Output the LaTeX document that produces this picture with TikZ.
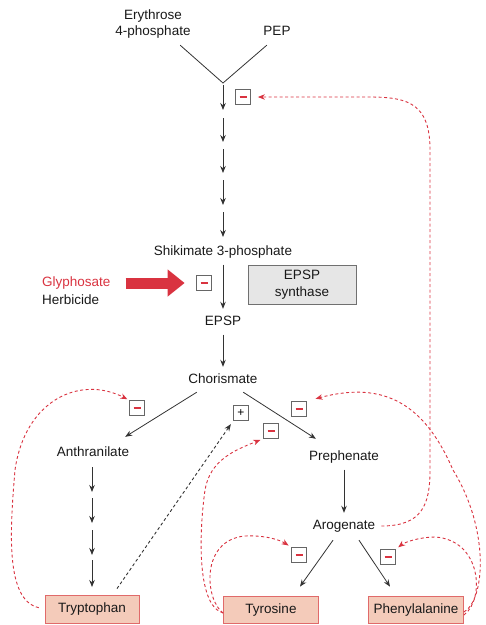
\documentclass[tikz,border=0pt]{standalone}
\usepackage{fontspec}
\setmainfont{Liberation Sans}
\usepackage{xcolor}
\usetikzlibrary{arrows.meta}

\definecolor{inhred}{HTML}{D93340}
\definecolor{aminofill}{HTML}{F4CBBA}
\definecolor{aminoline}{HTML}{E06A6A}
\definecolor{enzfill}{HTML}{E6E6E6}
\definecolor{enzline}{HTML}{707070}
\definecolor{boxgray}{HTML}{666666}
\definecolor{linegray}{HTML}{333333}

\newcommand{\minussign}{\rule{7pt}{1.4pt}}

\begin{document}
\begin{tikzpicture}[x=1pt, y=-1pt,
				>={Stealth[length=7pt,width=5.5pt]},
				metab/.style={font=\fontsize{13.5}{16.5}\selectfont, inner sep=1pt, align=center, text=black!90},
				onerow/.style={metab, text height=10pt, text depth=3pt},
				amino/.style={onerow, draw=aminoline, fill=aminofill, line width=0.8pt, minimum width=95pt, minimum height=27pt},
				enzyme/.style={metab, draw=enzline, fill=enzfill, line width=0.8pt, minimum width=108pt, minimum height=39pt},
				inhib/.style={draw=boxgray, line width=0.7pt, minimum size=15pt, inner sep=0pt, font=\fontsize{12}{12}\selectfont, text=inhred},
				boost/.style={inhib, text=black},
				arr/.style={->, color=linegray, line width=0.8pt},
				fb/.style={->, color=inhred, line width=0.9pt, dash pattern=on 3pt off 2.5pt},
				act/.style={->, color=linegray, line width=0.9pt, dash pattern=on 3pt off 2.5pt}]
				
				\useasboundingbox (0,0) rectangle (486,625);
				
				% metabolites
				\node[metab] (ery) at (153,24) {Erythrose\\4-phosphate};
				\node[onerow] (pep) at (277,32) {PEP};
				\coordinate (j) at (223,83);
				\node[onerow] (shik) at (223,252) {Shikimate 3-phosphate};
				\node[onerow] (epsp) at (223,322) {EPSP};
				\node[onerow] (chor) at (223,380) {Chorismate};
				\node[onerow] (anth) at (93,453) {Anthranilate};
				\node[onerow] (preph) at (344,457) {Prephenate};
				\node[onerow] (arog) at (344,526) {Arogenate};
				\node[amino, minimum width=94pt, minimum height=28pt] (trp) at (92,609) {Tryptophan};
				\node[amino] (tyr) at (271,610) {Tyrosine};
				\node[amino] (phe) at (416,610) {Phenylalanine};
				\node[enzyme] (synth) at (302,284.5) {EPSP\\synthase};
				\node[onerow, anchor=west, text=inhred] (glyph) at (41,283) {Glyphosate};
				\node[onerow, anchor=west] (herb) at (41,301) {Herbicide};
				
				% regulation boxes
				\node[inhib] (m1) at (243,97) {\minussign};
				\node[inhib] (m2) at (204,283) {\minussign};
				\node[inhib] (m3) at (137,408) {\minussign};
				\node[boost] (plus) at (241,413) {+};
				\node[inhib] (m4) at (299,409) {\minussign};
				\node[inhib] (m5) at (271,431) {\minussign};
				\node[inhib] (m6) at (299,555) {\minussign};
				\node[inhib] (m7) at (388,557) {\minussign};
				
				% pathway
				\draw[linegray, line width=0.8pt] ([xshift=-11.5pt,yshift=-5.5pt]ery.south east) -- (j) -- ([xshift=4.5pt,yshift=-5.5pt]pep.south west);
				\foreach \ya/\yb [count=\i] in {85/110, 118/142, 149/173, 180/205, 212/237} {
					\coordinate (up\i) at (223,\ya);
					\coordinate (dn\i) at (223,\yb);
					\draw[arr] (up\i) -- (dn\i);
				}
				\draw[arr, shorten <=5pt, shorten >=5.5pt] (shik) -- (epsp);
				\draw[arr, shorten <=5pt, shorten >=5.5pt] (epsp) -- (chor);
				\draw[arr] ([xshift=9.5pt,yshift=-4.5pt]chor.south west) -- ([xshift=-5pt,yshift=8.5pt]anth.north east);
				\draw[arr] ([xshift=-15.5pt,yshift=-4.5pt]chor.south east) -- ([xshift=8pt,yshift=10.5pt]preph.north west);
				\foreach \ya/\yb [count=\i] in {467/492, 498/523, 530/555, 560/587} {
					\coordinate (tu\i) at (92,\ya);
					\coordinate (td\i) at (92,\yb);
					\draw[arr] (tu\i) -- (td\i);
				}
				\draw[arr, shorten <=5pt, shorten >=5.5pt] (preph) -- (arog);
				\draw[arr] ([xshift=-11pt,yshift=-6.5pt]arog.south) -- ([xshift=29pt,yshift=9.5pt]tyr.north);
				\draw[arr] ([xshift=15pt,yshift=-6.5pt]arog.south) -- ([xshift=-26pt,yshift=9.5pt]phe.north);
				
				% herbicide
				\draw[inhred, line width=11pt, -{Triangle[length=17pt,width=26pt]}, shorten <=14pt, shorten >=11.5pt] (glyph.east) -- (m2.west);
				
				% feedback loops
				\draw[fb, shorten <=5pt, shorten >=7pt] (arog.east) .. controls (422,526) and (430,505) .. (430,470) -- (430,150) .. controls (430,105) and (410,97) .. (370,97) -- (m1.east);
				\draw[fb, shorten <=6pt, shorten >=2pt] (trp.west) .. controls (5,600) and (10,530) .. (15,470) .. controls (25,400) and (80,375) .. (m3.north west);
				\draw[act, shorten >=4pt] ([xshift=25pt,yshift=6pt]trp.north) -- (plus.south west);
				\draw[fb, shorten >=3pt] ([yshift=-3pt]tyr.west) .. controls (195,605) and (200,525) .. (205,490) .. controls (210,460) and (235,450) .. (m5.south west);
				\draw[fb, shorten >=3pt] ([yshift=-3pt]tyr.west) .. controls (205,600) and (200,540) .. (245,536) .. controls (265,535) and (280,540) .. (m6.north west);
				\draw[fb, shorten >=3pt] ([yshift=-5pt]phe.east) .. controls (485,600) and (482,540) .. (435,537) .. controls (420,537) and (405,542) .. (m7.north east);
				\draw[fb, shorten >=9pt] ([yshift=-2pt]phe.east) .. controls (485,600) and (490,530) .. (453,470) .. controls (425,405) and (385,380) .. (m4.north east);
			\end{tikzpicture}
\end{document}
